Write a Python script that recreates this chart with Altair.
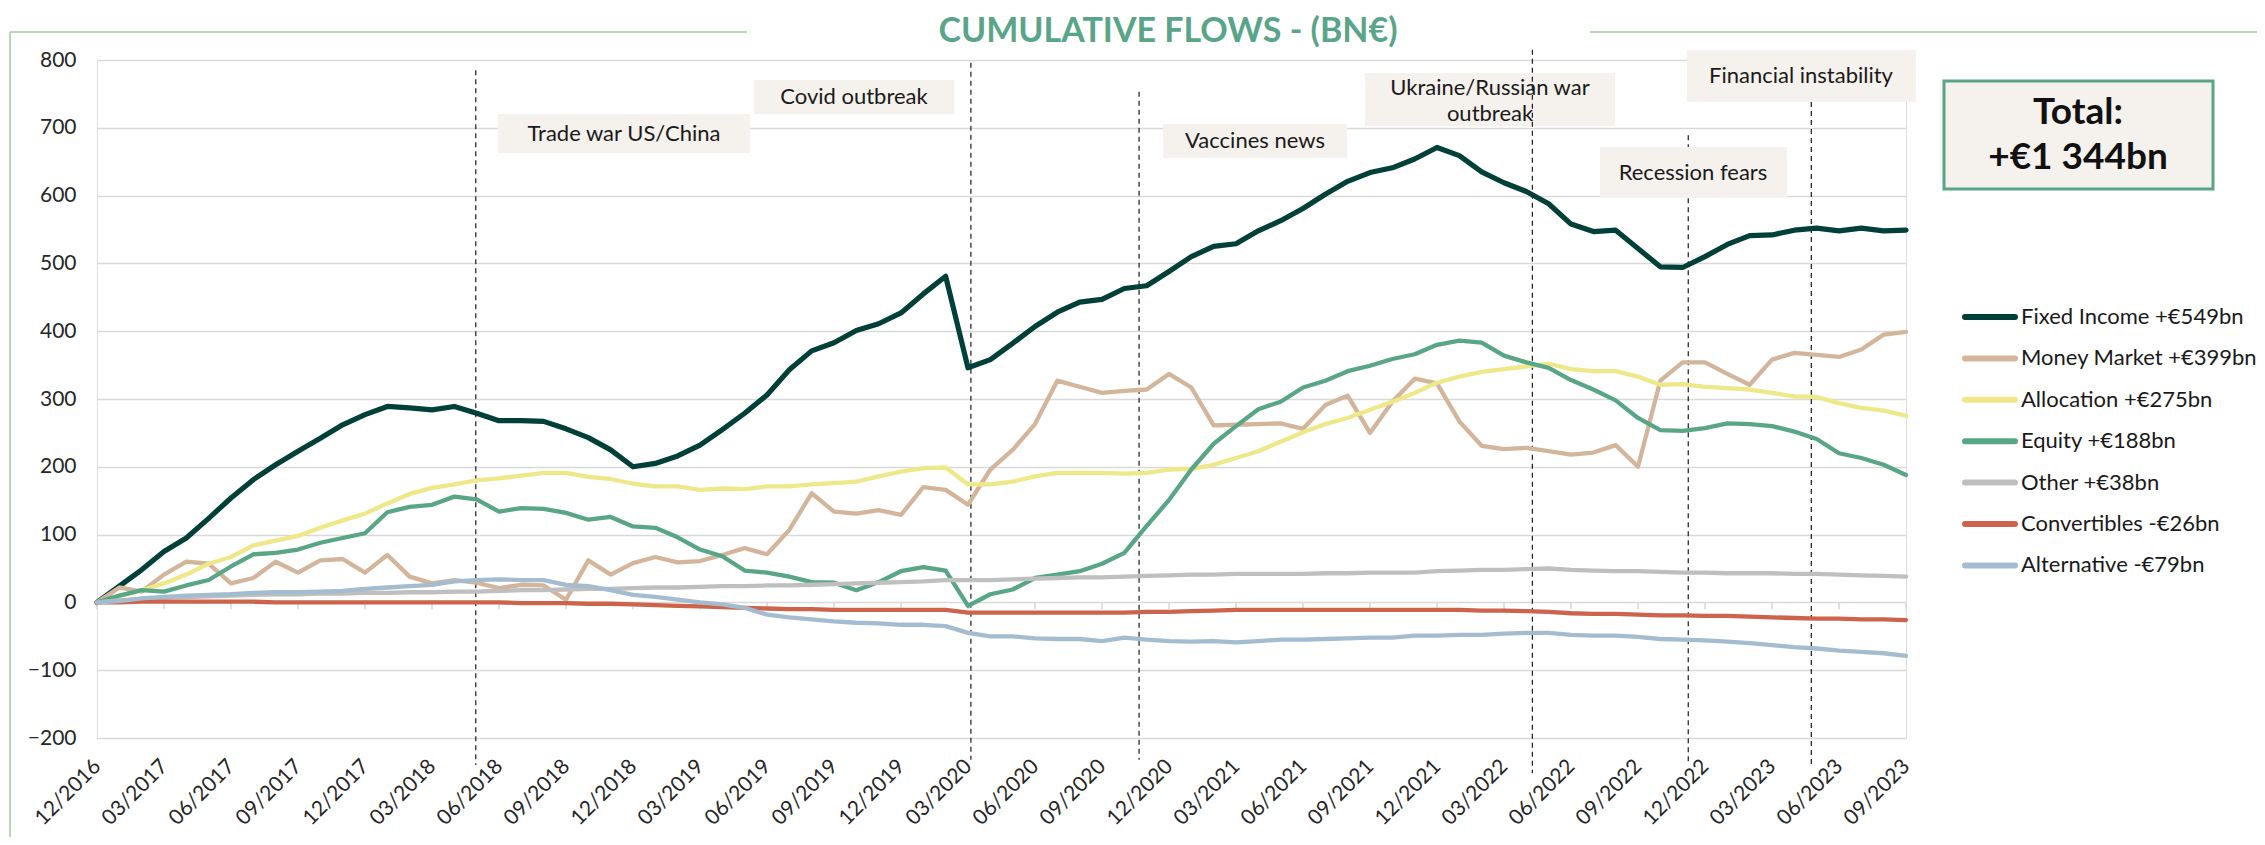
import altair as alt
import pandas as pd

# ---------------- data ----------------
tick_labels = ["12/2016", "03/2017", "06/2017", "09/2017", "12/2017", "03/2018", "06/2018",
               "09/2018", "12/2018", "03/2019", "06/2019", "09/2019", "12/2019", "03/2020",
               "06/2020", "09/2020", "12/2020", "03/2021", "06/2021", "09/2021", "12/2021",
               "03/2022", "06/2022", "09/2022", "12/2022", "03/2023", "06/2023", "09/2023"]

series_names = ["Fixed Income +€549bn", "Money Market +€399bn", "Allocation +€275bn",
                "Equity +€188bn", "Other +€38bn", "Convertibles -€26bn", "Alternative -€79bn"]

fixed_income = [0, 24, 48, 75, 95, 124, 154, 181, 203, 223,
                242, 262, 277, 289, 287, 284, 289, 279, 268, 268,
                267, 256, 243, 225, 200, 205, 216, 232, 255, 279,
                306, 343, 371, 383, 401, 411, 427, 455, 481, 346,
                358, 382, 407, 428, 443, 447, 463, 467, 488, 510,
                525, 529, 548, 563, 581, 602, 621, 634, 641, 654,
                671, 659, 635, 619, 606, 588, 558, 547, 549, 522,
                495, 494, 510, 528, 541, 542, 549, 552, 548, 552,
                548, 549]
money_market = [0, 22, 16, 41, 60, 57, 28, 36, 60, 44,
                62, 64, 44, 70, 38, 28, 33, 29, 21, 26,
                25, 4, 62, 41, 58, 67, 59, 61, 70, 80,
                71, 107, 161, 134, 131, 136, 129, 170, 166, 144,
                196, 225, 263, 327, 318, 309, 312, 314, 337, 317,
                261, 262, 263, 264, 256, 291, 305, 250, 296, 330,
                323, 267, 231, 226, 228, 223, 218, 221, 232, 200,
                327, 354, 354, 337, 321, 358, 368, 365, 362, 373,
                395, 399]
allocation = [0, 9, 18, 28, 41, 57, 67, 84, 91, 98,
              110, 121, 131, 146, 160, 169, 174, 180, 183, 187,
              191, 191, 185, 182, 175, 171, 171, 166, 168, 167,
              171, 171, 174, 176, 178, 186, 193, 198, 199, 174,
              174, 178, 186, 191, 191, 191, 190, 191, 196, 197,
              203, 213, 223, 237, 251, 263, 272, 284, 296, 309,
              324, 333, 340, 344, 348, 352, 344, 341, 341, 333,
              321, 322, 318, 316, 314, 309, 304, 303, 294, 287,
              283, 275]
equity = [0, 10, 18, 16, 25, 33, 53, 71, 73, 78,
          88, 95, 102, 133, 141, 144, 156, 152, 134, 139,
          138, 132, 122, 126, 112, 110, 96, 78, 68, 47,
          44, 38, 30, 29, 18, 30, 46, 52, 47, -5,
          12, 19, 36, 41, 46, 57, 73, 113, 151, 196,
          234, 260, 285, 296, 317, 327, 341, 349, 359, 366,
          380, 386, 383, 364, 354, 346, 328, 314, 298, 272,
          254, 253, 257, 264, 263, 260, 252, 241, 220, 213,
          203, 188]
other = [0, 3, 5, 7, 8, 9, 10, 11, 12, 12,
         13, 13, 14, 14, 15, 15, 16, 16, 17, 18,
         18, 19, 20, 20, 21, 22, 22, 23, 24, 24,
         25, 25, 26, 27, 28, 29, 30, 31, 33, 33,
         33, 34, 35, 36, 37, 37, 38, 39, 40, 41,
         41, 42, 42, 42, 42, 43, 43, 44, 44, 44,
         46, 47, 48, 48, 49, 50, 48, 47, 46, 46,
         45, 44, 44, 43, 43, 43, 42, 42, 41, 40,
         39, 38]
convertibles = [0, 0, 1, 1, 1, 1, 1, 1, 0, 0,
                0, 0, 0, 0, 0, 0, 0, 0, 0, -1,
                -1, -1, -2, -2, -3, -4, -5, -6, -7, -8,
                -9, -10, -10, -11, -11, -11, -11, -11, -11, -15,
                -15, -15, -15, -15, -15, -15, -15, -14, -14, -13,
                -12, -11, -11, -11, -11, -11, -11, -11, -11, -11,
                -11, -11, -12, -12, -13, -14, -16, -17, -17, -18,
                -19, -19, -20, -20, -21, -22, -23, -24, -24, -25,
                -25, -26]
alternative = [0, 2, 6, 8, 10, 11, 12, 14, 15, 15,
               16, 17, 20, 22, 24, 26, 31, 33, 34, 33,
               33, 26, 24, 18, 11, 8, 4, 0, -3, -8,
               -18, -22, -25, -28, -30, -31, -33, -33, -35, -45,
               -50, -50, -53, -54, -54, -57, -52, -55, -57, -58,
               -57, -59, -57, -55, -55, -54, -53, -52, -52, -49,
               -49, -48, -48, -46, -45, -45, -48, -49, -49, -51,
               -54, -55, -56, -58, -60, -63, -66, -68, -71, -73,
               -75, -79]

series_values = [fixed_income, money_market, allocation, equity, other, convertibles, alternative]
series_colors = ["#013f39", "#d3b59c", "#eee888", "#58a685", "#bfbfbf", "#cd634b", "#a4bccf"]
series_widths = [5.2, 4.3, 4.3, 4.3, 4.3, 4.3, 4.3]

event_labels = [["Trade war US/China"], ["Covid outbreak"], ["Vaccines news"],
                ["Ukraine/Russian war", "outbreak"], ["Recession fears"], ["Financial instability"]]
event_month = [16.96, 39.13, 46.66, 64.27, 71.25, 76.76]
event_top = [785, 796, 753, 815, 689, 738]
event_bottom = [-240, -232, -232, -252, -236, -240]

total_lines = ["Total:", "+€1 344bn"]

# ---------------- geometry ----------------
OX, OY = 97, 60          # page position of the plot origin
W, H = 1809, 678
FONT = "Lato"


def px(x):
    return x - OX


def py(y):
    return y - OY


n = len(fixed_income)
label_expr = "[" + ",".join(f"'{t}'" for t in tick_labels) + "][round(datum.value/3)]"

X = alt.X("idx:Q", scale=alt.Scale(domain=[0, n - 1], nice=False, zero=False),
          axis=alt.Axis(values=list(range(0, n, 3)), labelExpr=label_expr, labelAngle=-45,
                        labelAlign="right", labelBaseline="middle", labelFontSize=21,
                        labelColor="#262626", labelPadding=25, grid=False, domain=False,
                        ticks=False, title=None, labelFont=FONT, labelOverlap=False))
Y = alt.Y("value:Q", scale=alt.Scale(domain=[-200, 800], nice=False, zero=False),
          axis=alt.Axis(values=list(range(-200, 801, 100)), labelFontSize=21, labelColor="#262626",
                        labelPadding=21, grid=True, gridColor="#d9d9d9", gridWidth=1.6,
                        domain=False, ticks=False, title=None, labelFont=FONT))

layers = []

# quarter tick marks on the zero line
tick_df = pd.DataFrame({"idx": list(range(0, n, 3)), "value": [0] * len(range(0, n, 3)),
                        "low": [-10] * len(range(0, n, 3))})
layers.append(alt.Chart(tick_df).mark_rule(color="#d9d9d9", strokeWidth=1.6).encode(
    x=X, y=Y, y2="low:Q"))

# frame lines
frame_col = "#b9d6b6"
frame = pd.DataFrame({"a": [0]})
layers.append(alt.Chart(frame).mark_rule(color=frame_col, strokeWidth=2).encode(
    x=alt.value(px(10)), x2=alt.value(px(747)), y=alt.value(py(32))))
layers.append(alt.Chart(frame).mark_rule(color=frame_col, strokeWidth=2).encode(
    x=alt.value(px(1590)), x2=alt.value(px(2265)), y=alt.value(py(32))))
layers.append(alt.Chart(frame).mark_rule(color=frame_col, strokeWidth=2).encode(
    x=alt.value(px(10)), y=alt.value(py(32)), y2=alt.value(py(845))))

# title
layers.append(alt.Chart(pd.DataFrame({"t": ["CUMULATIVE FLOWS - (BN€)"]})).mark_text(
    font=FONT, fontSize=34, fontWeight="bold", color="#5aa58a", align="center",
    baseline="alphabetic").encode(
    text="t:N", x=alt.value(px(1168)), y=alt.value(py(41.5))))

# annotation boxes (page coords: x1, x2, y1, y2, text centre x, text centre ys)
boxes = [
    (498, 750, 114, 153, 624, [133.5]),
    (754, 954, 80, 114, 854, [97]),
    (1163, 1347, 124, 158, 1255, [141]),
    (1365, 1615, 73, 126, 1490, [87.5, 114]),
    (1600, 1787, 147, 198, 1693, [172.5]),
    (1687, 1916, 50, 102, 1801, [76]),
]
box_fill = "#f5f1ec"


def box_layer(b):
    return alt.Chart(frame).mark_rect(color=box_fill).encode(
        x=alt.value(px(b[0])), x2=alt.value(px(b[1])), y=alt.value(py(b[2])), y2=alt.value(py(b[3])))


# Ukraine box sits under its dashed line
layers.append(box_layer(boxes[3]))

# event dashed lines
ev_df = pd.DataFrame({"idx": event_month, "value": event_top, "low": event_bottom})
layers.append(alt.Chart(ev_df).mark_rule(color="#1a1a1a", strokeWidth=1.2, strokeDash=[5, 4]).encode(
    x=X, y=Y, y2="low:Q"))

for k, b in enumerate(boxes):
    if k != 3:
        layers.append(box_layer(b))
for k, b in enumerate(boxes):
    for line, yc in zip(event_labels[k], b[5]):
        layers.append(alt.Chart(pd.DataFrame({"t": [line]})).mark_text(
            font=FONT, fontSize=22, color="#1a1a1a", align="center", baseline="middle").encode(
            text="t:N", x=alt.value(px(b[4])), y=alt.value(py(yc))))

# total box
layers.append(alt.Chart(frame).mark_rect(color=box_fill, stroke="#5aa58a", strokeWidth=3).encode(
    x=alt.value(px(1944)), x2=alt.value(px(2213)), y=alt.value(py(81)), y2=alt.value(py(189))))
for line, yc in zip(total_lines, [113, 158]):
    layers.append(alt.Chart(pd.DataFrame({"t": [line]})).mark_text(
        font=FONT, fontSize=37, fontWeight="bold", color="#111111", align="center",
        baseline="middle").encode(text="t:N", x=alt.value(px(2078)), y=alt.value(py(yc))))

# data lines
for name, vals, col, w in zip(series_names, series_values, series_colors, series_widths):
    df = pd.DataFrame({"idx": list(range(n)), "value": vals, "series": name,
                       "month": [f"{(11 + i) % 12 + 1:02d}/{2016 + (11 + i) // 12}" for i in range(n)]})
    layers.append(alt.Chart(df).mark_line(color=col, strokeWidth=w, strokeJoin="round",
                                          strokeCap="round").encode(x=X, y=Y))

# legend (manual)
for k, (name, col, w) in enumerate(zip(series_names, series_colors, series_widths)):
    yc = 317 + 41.4 * k
    layers.append(alt.Chart(frame).mark_rule(color=col, strokeWidth=6, strokeCap="round").encode(
        x=alt.value(px(1965)), x2=alt.value(px(2015)), y=alt.value(py(yc))))
    layers.append(alt.Chart(pd.DataFrame({"t": [name]})).mark_text(
        font=FONT, fontSize=22, color="#1a1a1a", align="left", baseline="middle").encode(
        text="t:N", x=alt.value(px(2021)), y=alt.value(py(yc))))

chart = alt.layer(*layers).properties(
    width=W, height=H,
    autosize=alt.AutoSizeParams(type="none"),
    padding={"left": OX - 8, "top": OY - 8, "right": 2249 - (OX - 8) - W, "bottom": 829 - (OY - 8) - H},
).configure_view(stroke=None).configure(font=FONT, background="white")

chart.save("out.html", embed_options={"renderer": "svg", "actions": False})
